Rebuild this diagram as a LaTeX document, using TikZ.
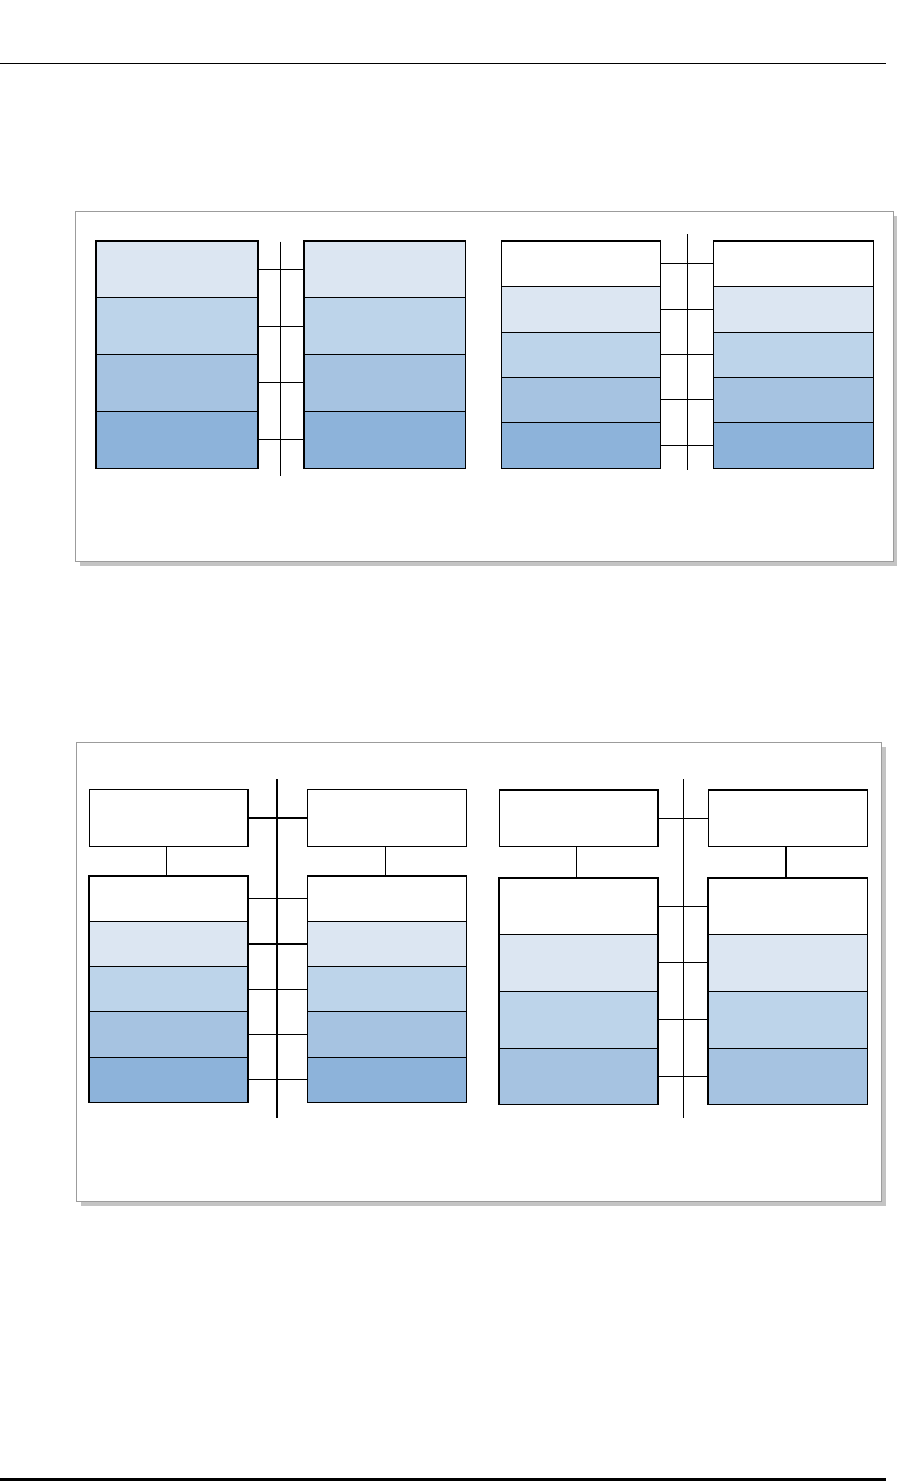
\documentclass[tikz,border=0pt]{standalone}
\usepackage{tikz}
\usepackage{xcolor}
\usetikzlibrary{positioning}
\definecolor{LayerA}{HTML}{DCE6F2}
\definecolor{LayerB}{HTML}{BDD4EA}
\definecolor{LayerC}{HTML}{A6C3E1}
\definecolor{LayerD}{HTML}{8DB3DA}
\definecolor{FrameGray}{HTML}{9C9C9C}
\definecolor{ShadowGray}{HTML}{C4C4C4}

\begin{document}
\begin{tikzpicture}[x=1pt, y=-1pt,
    layer/.style={draw=black, line width=0.7pt, inner sep=0pt, anchor=north west},
    stackline/.style={draw=black, line width=1.3pt},
    bus/.style={draw=black, line width=1.1pt},
    link/.style={draw=black, line width=1pt},
    panel/.style={draw=FrameGray, line width=1.2pt, fill=white},
    shade/.style={fill=ShadowGray}]
    \useasboundingbox (0,0) rectangle (898,1483);

    % Page rules
    \draw[line width=0.9pt] (0,63) -- (886,63);
    \draw[line width=3pt] (0,1479) -- (886,1479);

    % ---------------- Upper panel ----------------
    \fill[shade] (79.7,215.7) rectangle (897.3,565.7);
    \draw[panel] (75.7,211.7) rectangle (893.3,561.7);

    % Stacks with four layers
    \foreach \i/\c in {1/LayerA, 2/LayerB, 3/LayerC, 4/LayerD} {
        \node[layer, fill=\c, minimum width=161.6pt, minimum height=56.75pt]
            (a\i) at (95.7, {240.7+(\i-1)*56.75}) {};
        \node[layer, fill=\c, minimum width=161pt, minimum height=56.75pt]
            (b\i) at (304, {240.7+(\i-1)*56.75}) {};
    }
    \draw[stackline] (a1.north west) rectangle (a4.south east);
    \draw[stackline] (b1.north west) rectangle (b4.south east);

    \coordinate (busA top) at (280.7,241.7);
    \coordinate (busA bot) at (280.7,476);
    \draw[bus] (busA top) -- (busA bot);
    \foreach \i in {1,...,4}
        \draw[link] (a\i.east) -- (b\i.west);

    % Stacks with five layers
    \foreach \i/\c in {1/white, 2/LayerA, 3/LayerB, 4/LayerC, 5/LayerD} {
        \node[layer, fill=\c, minimum width=158.7pt, minimum height=45.4pt]
            (c\i) at (501.3, {240.7+(\i-1)*45.4}) {};
        \node[layer, fill=\c, minimum width=159.4pt, minimum height=45.4pt]
            (d\i) at (713.3, {240.7+(\i-1)*45.4}) {};
    }
    \draw[stackline] (c1.north west) rectangle (c5.south east);
    \draw[stackline] (d1.north west) rectangle (d5.south east);

    \coordinate (busB top) at (687.7,234.3);
    \coordinate (busB bot) at (687.7,470);
    \draw[bus] (busB top) -- (busB bot);
    \foreach \i in {1,...,5}
        \draw[link] (c\i.east) -- (d\i.west);

    % ---------------- Lower panel ----------------
    \fill[shade] (80.7,746.7) rectangle (885.7,1205.7);
    \draw[panel] (76.7,742.7) rectangle (881.7,1201.7);

    % Top boxes
    \node[layer, line width=1.3pt, fill=white, minimum width=158.6pt, minimum height=56.7pt]
        (e0) at (88.7,789) {};
    \node[layer, line width=1.3pt, fill=white, minimum width=159pt, minimum height=56.7pt]
        (f0) at (307,789) {};
    \node[layer, line width=1.3pt, fill=white, minimum width=158.3pt, minimum height=56.4pt]
        (g0) at (499,789.3) {};
    \node[layer, line width=1.3pt, fill=white, minimum width=158.7pt, minimum height=56.4pt]
        (h0) at (708,789.3) {};

    % Stacks with five layers
    \foreach \i/\c in {1/white, 2/LayerA, 3/LayerB, 4/LayerC, 5/LayerD} {
        \node[layer, fill=\c, minimum width=158.6pt, minimum height=45.26pt]
            (e\i) at (88.7, {875.7+(\i-1)*45.26}) {};
        \node[layer, fill=\c, minimum width=158.7pt, minimum height=45.26pt]
            (f\i) at (307.3, {875.7+(\i-1)*45.26}) {};
    }
    \draw[stackline] (e1.north west) rectangle (e5.south east);
    \draw[stackline] (f1.north west) rectangle (f5.south east);

    % Stacks with four layers
    \foreach \i/\c in {1/white, 2/LayerA, 3/LayerB, 4/LayerC} {
        \node[layer, fill=\c, minimum width=158.3pt, minimum height=56.6pt]
            (g\i) at (499, {877.7+(\i-1)*56.6}) {};
        \node[layer, fill=\c, minimum width=158.7pt, minimum height=56.6pt]
            (h\i) at (708, {877.7+(\i-1)*56.6}) {};
    }
    \draw[stackline] (g1.north west) rectangle (g4.south east);
    \draw[stackline] (h1.north west) rectangle (h4.south east);

    % Links from top boxes down to stacks
    \draw[stackline] (e0.south -| 166.7,0) -- (e1.north -| 166.7,0);
    \draw[link] (f0.south -| 385.3,0) -- (f1.north -| 385.3,0);
    \draw[stackline] (g0.south -| 576.7,0) -- (g1.north -| 576.7,0);
    \draw[stackline] (h0.south -| 786,0) -- (h1.north -| 786,0);

    % Buses
    \coordinate (busC top) at (277,779);
    \coordinate (busC bot) at (277,1118.3);
    \draw[stackline] (busC top) -- (busC bot);
    \draw[stackline] (e0.east) -- (f0.west);
    \foreach \i in {1,...,5}
        \draw[stackline] (e\i.east) -- (f\i.west);

    \coordinate (busD top) at (683.3,779);
    \coordinate (busD bot) at (683.3,1118.3);
    \draw[link] (busD top) -- (busD bot);
    \draw[stackline] (g0.east) -- (h0.west);
    \draw[stackline] (g1.east) -- (h1.west);
    \foreach \i in {2,...,4}
        \draw[link] (g\i.east) -- (h\i.west);

\end{tikzpicture}
\end{document}
